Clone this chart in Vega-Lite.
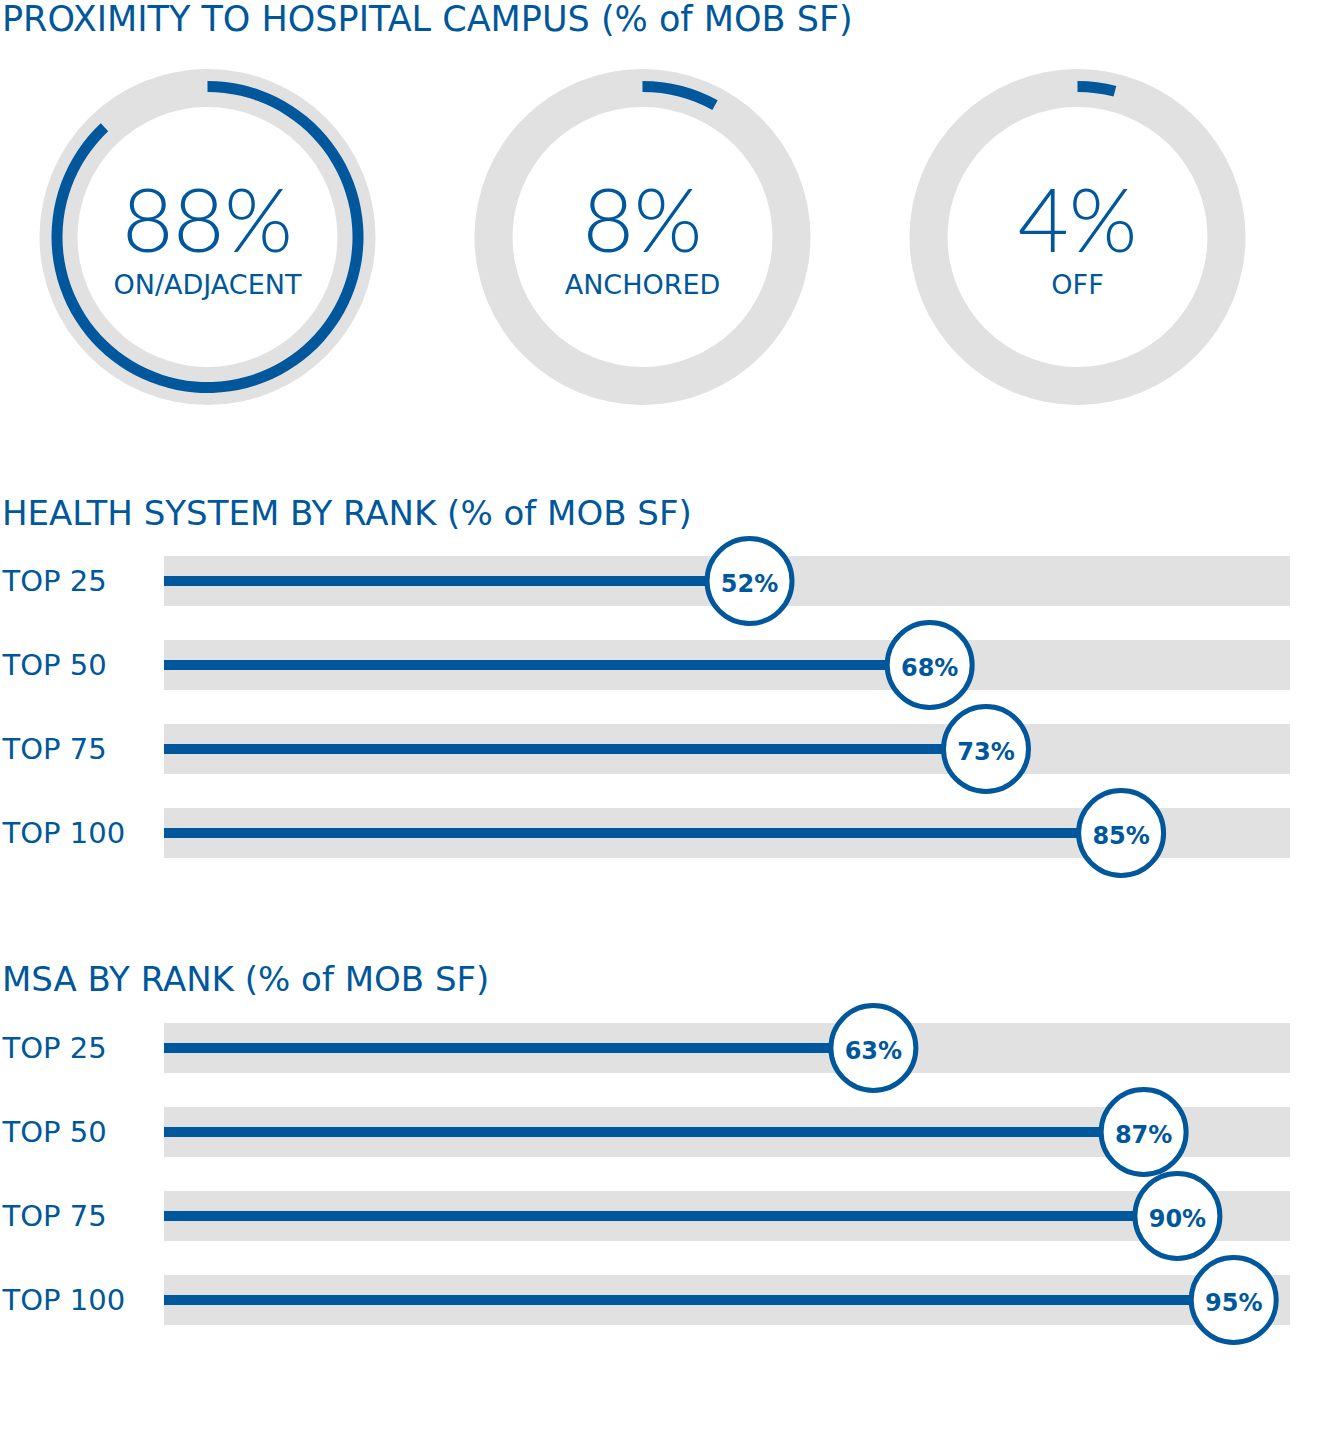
{
  "$schema": "https://vega.github.io/schema/vega-lite/v6.json",
  "background": "white",
  "padding": {"left": 2, "top": 3, "right": 0, "bottom": 0},
  "config": {
    "view": {"stroke": null},
    "font": "DejaVu Sans",
    "title": {"font": "DejaVu Sans", "fontSize": 34, "fontWeight": "normal", "color": "#00579b", "anchor": "start", "frame": "bounds", "baseline": "alphabetic"}
  },
  "columns": 1,
  "align": "none",
  "spacing": 77,
  "concat": [
    {
      "width": 957,
      "height": 366,
      "title": {"text": "PROXIMITY TO HOSPITAL CAMPUS (% of MOB SF)", "fontSize": 35, "offset": 16, "frame": "group", "dx": -162},
      "data": {"values": [
        {"category": "ON/ADJACENT", "value": 0.88},
        {"category": "ANCHORED", "value": 0.08},
        {"category": "OFF", "value": 0.04}
      ]},
      "encoding": {
        "x": {"field": "category", "type": "nominal", "sort": null, "scale": {"type": "point", "padding": 0.1}, "axis": null}
      },
      "layer": [
        {"mark": {"type": "arc", "radius": 168, "radius2": 130, "theta": 0, "theta2": 6.2832, "color": "#e1e1e1"}},
        {"mark": {"type": "arc", "radius": 156, "radius2": 145, "color": "#00579b"},
         "encoding": {
           "theta": {"field": "value", "type": "quantitative", "stack": null, "scale": {"domain": [0, 1], "range": [0, 6.2832]}},
           "theta2": {"datum": 0}
         }},
        {"mark": {"type": "text", "font": "Lato", "fontWeight": 300, "fontSize": 88, "color": "#00579b", "baseline": "alphabetic", "dy": 15},
         "encoding": {"text": {"field": "value", "type": "quantitative", "format": ".0%"}}},
        {"mark": {"type": "text", "font": "DejaVu Sans", "fontSize": 27, "color": "#00579b", "baseline": "alphabetic", "dy": 57},
         "encoding": {"text": {"field": "category", "type": "nominal"}}}
      ]
    },
    {
      "width": 1126,
      "height": 336,
      "title": {"text": "HEALTH SYSTEM BY RANK (% of MOB SF)", "offset": -3},
      "data": {"values": [
        {"rank": "TOP 25", "value": 0.52},
        {"rank": "TOP 50", "value": 0.68},
        {"rank": "TOP 75", "value": 0.73},
        {"rank": "TOP 100", "value": 0.85}
      ]},
      "encoding": {
        "y": {"field": "rank", "type": "nominal", "sort": null, "scale": {"paddingInner": 0, "paddingOuter": 0},
              "axis": {"title": null, "domain": false, "ticks": false, "tickSize": 0, "labelAlign": "left", "labelPadding": 162, "labelFontSize": 29, "labelColor": "#00579b", "labelFont": "DejaVu Sans", "labelBaseline": "alphabetic", "labelOffset": 10}}
      },
      "layer": [
        {"mark": {"type": "bar", "size": 50, "color": "#e1e1e1"},
         "encoding": {"x": {"datum": 1, "type": "quantitative", "scale": {"domain": [0, 1]}, "axis": null}}},
        {"mark": {"type": "bar", "size": 10, "color": "#00579b"},
         "encoding": {"x": {"field": "value", "type": "quantitative", "scale": {"domain": [0, 1]}, "axis": null}}},
        {"mark": {"type": "point", "shape": "circle", "filled": true, "fill": "white", "stroke": "#00579b", "strokeWidth": 5, "size": 7225, "opacity": 1},
         "encoding": {"x": {"field": "value", "type": "quantitative", "scale": {"domain": [0, 1]}, "axis": null}}},
        {"mark": {"type": "text", "font": "DejaVu Sans", "fontWeight": "bold", "fontSize": 24, "color": "#00579b", "baseline": "alphabetic", "dy": 11},
         "encoding": {"x": {"field": "value", "type": "quantitative", "scale": {"domain": [0, 1]}, "axis": null}, "text": {"field": "value", "type": "quantitative", "format": ".0%"}}}
      ]
    },
    {
      "width": 1126,
      "height": 336,
      "title": {"text": "MSA BY RANK (% of MOB SF)", "offset": -2},
      "data": {"values": [
        {"rank": "TOP 25", "value": 0.63},
        {"rank": "TOP 50", "value": 0.87},
        {"rank": "TOP 75", "value": 0.90},
        {"rank": "TOP 100", "value": 0.95}
      ]},
      "encoding": {
        "y": {"field": "rank", "type": "nominal", "sort": null, "scale": {"paddingInner": 0, "paddingOuter": 0},
              "axis": {"title": null, "domain": false, "ticks": false, "tickSize": 0, "labelAlign": "left", "labelPadding": 162, "labelFontSize": 29, "labelColor": "#00579b", "labelFont": "DejaVu Sans", "labelBaseline": "alphabetic", "labelOffset": 10}}
      },
      "layer": [
        {"mark": {"type": "bar", "size": 50, "color": "#e1e1e1"},
         "encoding": {"x": {"datum": 1, "type": "quantitative", "scale": {"domain": [0, 1]}, "axis": null}}},
        {"mark": {"type": "bar", "size": 10, "color": "#00579b"},
         "encoding": {"x": {"field": "value", "type": "quantitative", "scale": {"domain": [0, 1]}, "axis": null}}},
        {"mark": {"type": "point", "shape": "circle", "filled": true, "fill": "white", "stroke": "#00579b", "strokeWidth": 5, "size": 7225, "opacity": 1},
         "encoding": {"x": {"field": "value", "type": "quantitative", "scale": {"domain": [0, 1]}, "axis": null}}},
        {"mark": {"type": "text", "font": "DejaVu Sans", "fontWeight": "bold", "fontSize": 24, "color": "#00579b", "baseline": "alphabetic", "dy": 11},
         "encoding": {"x": {"field": "value", "type": "quantitative", "scale": {"domain": [0, 1]}, "axis": null}, "text": {"field": "value", "type": "quantitative", "format": ".0%"}}}
      ]
    }
  ]
}
